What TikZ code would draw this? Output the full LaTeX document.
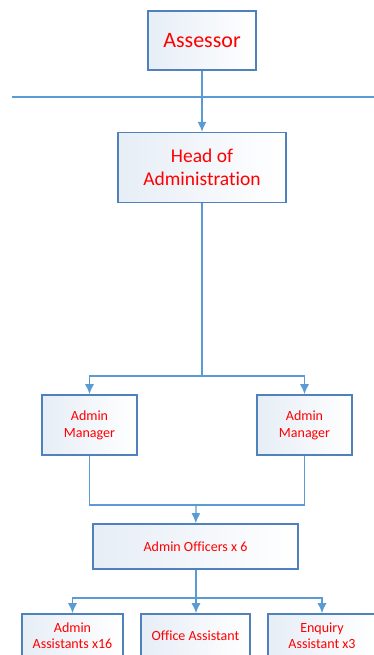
\documentclass[tikz,border=0pt]{standalone}
\usepackage{fontspec}
\setmainfont{Carlito}[Ligatures=NoCommon]
\usetikzlibrary{positioning,arrows.meta}
\definecolor{boxline}{HTML}{4F81BD}
\definecolor{linkline}{HTML}{5B9BD5}
\definecolor{boxfill}{HTML}{DCE6F2}
\tikzset{>={Latex[length=10pt,width=9pt]}}
\tikzset{
  rolebox/.style={draw=boxline, line width=1.6pt, align=center,
    left color=boxfill!70, right color=white, text=red,
    inner sep=2pt},
  link/.style={draw=linkline, line width=1.3pt}
}

\begin{document}
\begin{tikzpicture}[x=1pt, y=-1pt]

  \useasboundingbox (0,0) rectangle (374,655);
  \clip (0,0) rectangle (374,655);

  % Nodes
  \node[rolebox, minimum width=108pt, minimum height=59pt,
    font=\fontsize{22}{26}\selectfont] (assessor) at (202,40.5) {Assessor};
  \node[rolebox, below=61pt of assessor, minimum width=168pt, minimum height=70pt,
    font=\fontsize{19.5}{23}\selectfont] (head) {Head of\\Administration};
  \node[rolebox, minimum width=95pt, minimum height=60pt,
    font=\fontsize{14}{17}\selectfont] (mgrL) at (89.5,425) {Admin\\Manager};
  \node[rolebox, minimum width=95pt, minimum height=60pt,
    font=\fontsize{14}{17}\selectfont] (mgrR) at (304.5,425) {Admin\\Manager};
  \node[rolebox, minimum width=205pt, minimum height=45pt,
    font=\fontsize{14}{17}\selectfont] (officers) at (195.5,546.5) {Admin Officers x 6};
  \node[rolebox, minimum width=101pt, minimum height=44pt,
    font=\fontsize{14}{16}\selectfont] (asstA) at (72.5,636) {Admin\\Assistants x16};
  \node[rolebox, minimum width=109pt, minimum height=44pt,
    font=\fontsize{14}{16}\selectfont] (asstO) at (195.5,636) {Office Assistant};
  \node[rolebox, minimum width=108pt, minimum height=44pt,
    font=\fontsize{14}{16}\selectfont] (asstE) at (322,636) {Enquiry\\Assistant x3};

  % Coordinates
  \coordinate (lineL) at (12,97);
  \coordinate (lineR) at (374,97);
  \coordinate (splitM) at (202,376);
  \coordinate (joinO) at (196,505);
  \coordinate (splitA) at (196,598);

  % Edges
  \draw[link] (lineL) -- (lineR);
  \draw[link,->] (assessor) -- (head);
  \draw[link] (head) -- (splitM);
  \draw[link,->] (splitM) -| (mgrL);
  \draw[link,->] (splitM) -| (mgrR);
  \draw[link] (mgrL) |- (joinO);
  \draw[link] (mgrR) |- (joinO);
  \draw[link,->] (joinO) -- (officers);
  \draw[link] (officers.south -| splitA) -- (splitA);
  \draw[link,->] (splitA) -| (asstA);
  \draw[link,->] (splitA) -- (asstO.north -| splitA);
  \draw[link,->] (splitA) -| (asstE);

\end{tikzpicture}
\end{document}
